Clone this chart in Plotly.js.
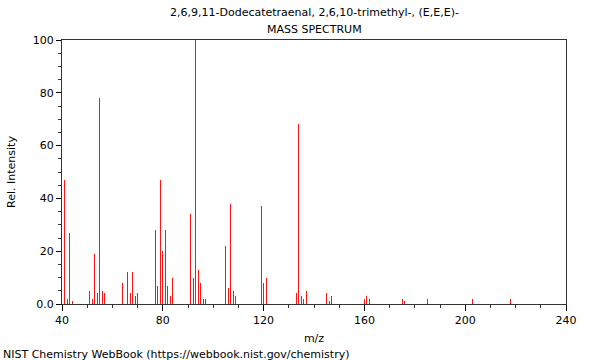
<!DOCTYPE html>
<html>
<head>
<meta charset="utf-8">
<script src="https://cdn.plot.ly/plotly-3.0.1.min.js"></script>
<style>html,body{margin:0;padding:0;background:#fff;}#chart{width:600px;height:360px;}</style>
</head>
<body>
<div id="chart"></div>
<script>
var mz = [41,42,43,44,51,52,53,54,55,56,57,64,65,66,67,68,69,70,77,78,79,80,81,82,83,84,
          91,92,93,94,95,96,97,105,106,107,108,109,119,120,121,133,134,135,136,137,
          145,146,147,160,161,162,175,176,185,203,218];
var intensity = [47,2,27,1,5,2,19,4,78,5,4,8,3,12,4,12,3,4,28,7,47,20,28,7,3,10,
                 34,10,100,13,8,2,2,22,6,38,5,3,37,8,10,4,68,3,2,5,
                 4,1,3,2,3,2,2,1,2,2,2];
var yTickVals = [0,20,40,60,80,100];
var yTickText = ["0.0","20","40","60","80","100"];
var xTickVals = [40,80,120,160,200,240];
var xTickText = ["40","80","120","160","200","240"];
var titleLine1 = "2,6,9,11-Dodecatetraenal, 2,6,10-trimethyl-, (E,E,E)-";
var titleLine2 = "MASS SPECTRUM";
var credit = "NIST Chemistry WebBook (https://webbook.nist.gov/chemistry)";

var font = {family: "DejaVu Sans, sans-serif", size: 11, color: "#000"};

var trace = {
  type: "bar",
  x: mz,
  y: intensity,
  width: 0.38,
  marker: {color: "rgb(255,20,20)", line: {width: 0}},
  hoverinfo: "x+y"
};

var layout = {
  width: 600, height: 360,
  margin: {l: 61.5, r: 33.5, t: 40, b: 56, pad: 0},
  paper_bgcolor: "#fff", plot_bgcolor: "#fff",
  font: font,
  showlegend: false,
  bargap: 0,
  xaxis: {
    range: [40, 240],
    tickmode: "array", tickvals: xTickVals, ticktext: xTickText,
    ticks: "outside", ticklen: 6, tickwidth: 1, tickcolor: "#000",
    minor: {dtick: 10, tick0: 40, ticks: "outside", ticklen: 3, tickcolor: "#333", showgrid: false},
    showline: true, linecolor: "#333", linewidth: 1, mirror: true,
    showgrid: false, zeroline: false,
    tickfont: font,
    title: {text: "m/z", font: font, standoff: 8}
  },
  yaxis: {
    range: [0, 100],
    tickmode: "array", tickvals: yTickVals, ticktext: yTickText,
    ticks: "outside", ticklen: 5, tickwidth: 1, tickcolor: "#000",
    minor: {dtick: 5, tick0: 0, ticks: "outside", ticklen: 3, tickcolor: "#333", showgrid: false},
    showline: true, linecolor: "#333", linewidth: 1, mirror: true,
    showgrid: false, zeroline: false,
    tickfont: font,
    title: {text: "Rel. Intensity", font: font, standoff: 14}
  },
  annotations: [
    {text: titleLine1, xref: "paper", yref: "paper", x: 0.5, y: 1.1025, xanchor: "center", yanchor: "middle", showarrow: false, font: font},
    {text: titleLine2, xref: "paper", yref: "paper", x: 0.5, y: 1.038, xanchor: "center", yanchor: "middle", showarrow: false, font: font},
    {text: credit, xref: "paper", yref: "paper", x: -0.1218, y: -0.193, xanchor: "left", yanchor: "middle", showarrow: false, font: font}
  ]
};

Plotly.newPlot("chart", [trace], layout, {displayModeBar: false, staticPlot: true});
</script>
</body>
</html>
